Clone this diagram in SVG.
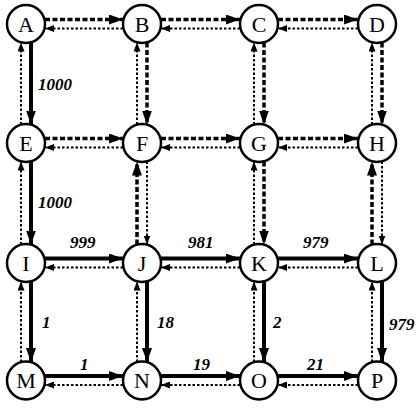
<svg xmlns="http://www.w3.org/2000/svg" width="416" height="408" viewBox="0 0 416 408">
<style>
.s{stroke:#000;stroke-width:4;fill:none;marker-end:url(#big)}
.d{stroke:#000;stroke-width:3.5;stroke-dasharray:5 2.5;fill:none;marker-end:url(#big)}
.t{stroke:#000;stroke-width:2;stroke-dasharray:2.5 2;fill:none;marker-end:url(#small)}
.n circle{fill:#fff;stroke:#000;stroke-width:2.5}
.n text{font-family:"Liberation Serif","Times New Roman",serif;font-size:22px;text-anchor:middle;fill:#000}
.w{font-family:"Liberation Serif","Times New Roman",serif;font-size:17px;font-style:italic;font-weight:bold;fill:#000}
</style>
<defs>
<marker id="big" markerUnits="userSpaceOnUse" markerWidth="14" markerHeight="10" refX="14" refY="5" orient="auto"><path d="M0,0 L14,5 L0,10 z" fill="#000"/></marker>
<marker id="small" markerUnits="userSpaceOnUse" markerWidth="9" markerHeight="7" refX="9" refY="3.5" orient="auto"><path d="M0,0 L9,3.5 L0,7 z" fill="#000"/></marker>
</defs>
<rect width="416" height="408" fill="#fff"/>
<g id="connectors">
<line class="d" x1="45" y1="19.5" x2="123" y2="19.5"/><line class="t" x1="123" y1="28.5" x2="45" y2="28.5"/>
<line class="d" x1="161" y1="19.5" x2="240" y2="19.5"/><line class="t" x1="240" y1="28.5" x2="161" y2="28.5"/>
<line class="d" x1="278" y1="19.5" x2="358" y2="19.5"/><line class="t" x1="358" y1="28.5" x2="278" y2="28.5"/>
<line class="d" x1="45" y1="138.5" x2="123" y2="138.5"/><line class="t" x1="123" y1="147.5" x2="45" y2="147.5"/>
<line class="d" x1="161" y1="138.5" x2="240" y2="138.5"/><line class="t" x1="240" y1="147.5" x2="161" y2="147.5"/>
<line class="d" x1="278" y1="138.5" x2="358" y2="138.5"/><line class="t" x1="358" y1="147.5" x2="278" y2="147.5"/>
<line class="s" x1="45" y1="258.5" x2="123" y2="258.5"/><line class="t" x1="123" y1="267.5" x2="45" y2="267.5"/>
<line class="s" x1="161" y1="258.5" x2="240" y2="258.5"/><line class="t" x1="240" y1="267.5" x2="161" y2="267.5"/>
<line class="s" x1="278" y1="258.5" x2="358" y2="258.5"/><line class="t" x1="358" y1="267.5" x2="278" y2="267.5"/>
<line class="s" x1="45" y1="376" x2="123" y2="376"/><line class="t" x1="123" y1="385" x2="45" y2="385"/>
<line class="s" x1="161" y1="376" x2="240" y2="376"/><line class="t" x1="240" y1="385" x2="161" y2="385"/>
<line class="s" x1="278" y1="376" x2="358" y2="376"/><line class="t" x1="358" y1="385" x2="278" y2="385"/>
<line class="t" x1="21" y1="124.5" x2="21" y2="42.5"/><line class="s" x1="31" y1="42.5" x2="31" y2="124.5"/>
<line class="t" x1="137" y1="124.5" x2="137" y2="42.5"/><line class="d" x1="147" y1="42.5" x2="147" y2="124.5"/>
<line class="t" x1="254" y1="124.5" x2="254" y2="42.5"/><line class="d" x1="264" y1="42.5" x2="264" y2="124.5"/>
<line class="t" x1="372" y1="124.5" x2="372" y2="42.5"/><line class="d" x1="382" y1="42.5" x2="382" y2="124.5"/>
<line class="t" x1="21" y1="244.5" x2="21" y2="161.5"/><line class="s" x1="31" y1="161.5" x2="31" y2="244.5"/>
<line class="d" x1="137" y1="244.5" x2="137" y2="161.5"/><line class="t" x1="147" y1="161.5" x2="147" y2="244.5"/>
<line class="t" x1="254" y1="244.5" x2="254" y2="161.5"/><line class="d" x1="264" y1="161.5" x2="264" y2="244.5"/>
<line class="d" x1="372" y1="244.5" x2="372" y2="161.5"/><line class="t" x1="382" y1="161.5" x2="382" y2="244.5"/>
<line class="t" x1="21" y1="362" x2="21" y2="281.5"/><line class="s" x1="31" y1="281.5" x2="31" y2="362"/>
<line class="t" x1="137" y1="362" x2="137" y2="281.5"/><line class="s" x1="147" y1="281.5" x2="147" y2="362"/>
<line class="t" x1="254" y1="362" x2="254" y2="281.5"/><line class="s" x1="264" y1="281.5" x2="264" y2="362"/>
<line class="t" x1="372" y1="362" x2="372" y2="281.5"/><line class="s" x1="382" y1="281.5" x2="382" y2="362"/>
</g>
<g id="labels">
<text class="w" x="38" y="90">1000</text>
<text class="w" x="38" y="208">1000</text>
<text class="w" x="70" y="248">999</text>
<text class="w" x="188" y="248">981</text>
<text class="w" x="303" y="248">979</text>
<text class="w" x="42" y="328">1</text>
<text class="w" x="157" y="328">18</text>
<text class="w" x="273" y="328">2</text>
<text class="w" x="389" y="330">979</text>
<text class="w" x="80" y="370">1</text>
<text class="w" x="193" y="370">19</text>
<text class="w" x="307" y="370">21</text>
</g>
<g id="A" class="n"><circle cx="26" cy="24" r="19"/><text x="26" y="31.5">A</text></g>
<g id="B" class="n"><circle cx="142" cy="24" r="19"/><text x="142" y="31.5">B</text></g>
<g id="C" class="n"><circle cx="259" cy="24" r="19"/><text x="259" y="31.5">C</text></g>
<g id="D" class="n"><circle cx="377" cy="24" r="19"/><text x="377" y="31.5">D</text></g>
<g id="E" class="n"><circle cx="26" cy="143" r="19"/><text x="26" y="150.5">E</text></g>
<g id="F" class="n"><circle cx="142" cy="143" r="19"/><text x="142" y="150.5">F</text></g>
<g id="G" class="n"><circle cx="259" cy="143" r="19"/><text x="259" y="150.5">G</text></g>
<g id="H" class="n"><circle cx="377" cy="143" r="19"/><text x="377" y="150.5">H</text></g>
<g id="I" class="n"><circle cx="26" cy="263" r="19"/><text x="26" y="270.5">I</text></g>
<g id="J" class="n"><circle cx="142" cy="263" r="19"/><text x="142" y="270.5">J</text></g>
<g id="K" class="n"><circle cx="259" cy="263" r="19"/><text x="259" y="270.5">K</text></g>
<g id="L" class="n"><circle cx="377" cy="263" r="19"/><text x="377" y="270.5">L</text></g>
<g id="M" class="n"><circle cx="26" cy="380.5" r="19"/><text x="26" y="388">M</text></g>
<g id="N" class="n"><circle cx="142" cy="380.5" r="19"/><text x="142" y="388">N</text></g>
<g id="O" class="n"><circle cx="259" cy="380.5" r="19"/><text x="259" y="388">O</text></g>
<g id="P" class="n"><circle cx="377" cy="380.5" r="19"/><text x="377" y="388">P</text></g>
</svg>
